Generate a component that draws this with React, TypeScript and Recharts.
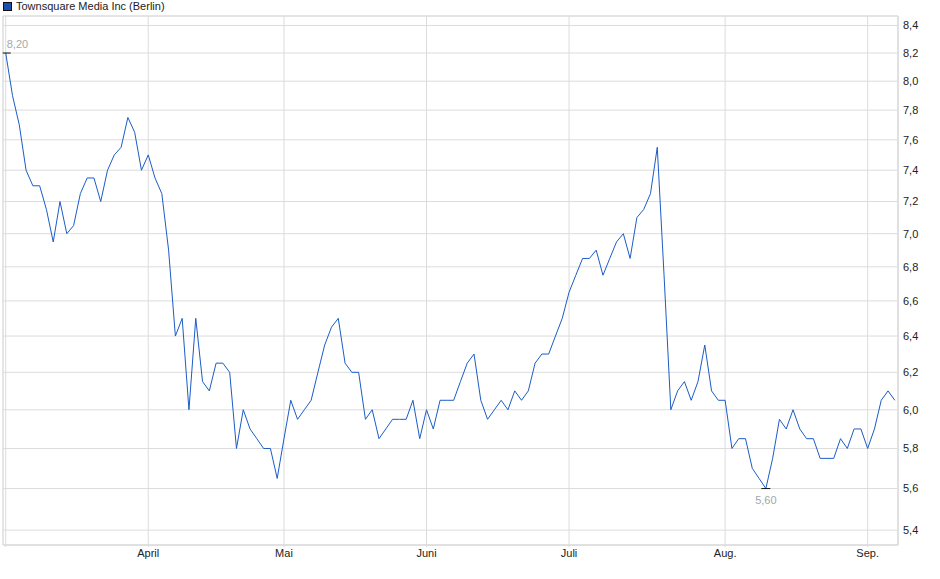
import {
  LineChart,
  Line,
  XAxis,
  YAxis,
  CartesianGrid,
  ReferenceArea,
  ReferenceDot,
} from "recharts";

// daily closes, one array per month (trading days)
const marchPrices = [8.2, 7.9, 7.7, 7.4, 7.3, 7.3, 7.15, 6.95, 7.2, 7.0, 7.05, 7.25, 7.35, 7.35, 7.2, 7.4, 7.5, 7.55, 7.75, 7.65, 7.4];
const aprilPrices = [7.5, 7.35, 7.25, 6.9, 6.4, 6.5, 6.0, 6.5, 6.15, 6.1, 6.25, 6.25, 6.2, 5.8, 6.0, 5.9, 5.85, 5.8, 5.8, 5.65];
const mayPrices = [5.85, 6.05, 5.95, 6.0, 6.05, 6.2, 6.35, 6.45, 6.5, 6.25, 6.2, 6.2, 5.95, 6.0, 5.85, 5.9, 5.95, 5.95, 5.95, 6.05, 5.85];
const junePrices = [6.0, 5.9, 6.05, 6.05, 6.05, 6.15, 6.25, 6.3, 6.05, 5.95, 6.0, 6.05, 6.0, 6.1, 6.05, 6.1, 6.25, 6.3, 6.3, 6.4, 6.5];
const julyPrices = [6.65, 6.75, 6.85, 6.85, 6.9, 6.75, 6.85, 6.95, 7.0, 6.85, 7.1, 7.15, 7.25, 7.55, 6.75, 6.0, 6.1, 6.15, 6.05, 6.15, 6.35, 6.1, 6.05];
const augustPrices = [6.05, 5.8, 5.85, 5.85, 5.7, 5.65, 5.6, 5.75, 5.95, 5.9, 6.0, 5.9, 5.85, 5.85, 5.75, 5.75, 5.75, 5.85, 5.8, 5.9, 5.9];
const septemberPrices = [5.8, 5.9, 6.05, 6.1, 6.05];

const months = [marchPrices, aprilPrices, mayPrices, junePrices, julyPrices, augustPrices, septemberPrices];
const monthLabels = ["", "April", "Mai", "Juni", "Juli", "Aug.", "Sep."];
const yTicks = [5.4, 5.6, 5.8, 6.0, 6.2, 6.4, 6.6, 6.8, 7.0, 7.2, 7.4, 7.6, 7.8, 8.0, 8.2, 8.4];

const prices = months.flat();
const data = prices.map((price, i) => ({ i, price }));

// index of the first trading day of each month
const monthTicks: number[] = [];
months.reduce((start, m) => {
  monthTicks.push(start);
  return start + m.length;
}, 0);

const maxIdx = prices.indexOf(Math.max(...prices));
const minIdx = prices.indexOf(Math.min(...prices));

const FONT = "'Liberation Sans', Arial, sans-serif";
const GRID = "#dcdcdc";
const LINE = "#1b5cc6";
const fmt = (v: number) => v.toFixed(2).replace(".", ",");

export default function App() {
  return (
    <div style={{ position: "absolute", left: 0, top: 0, width: 940, height: 579, fontFamily: FONT, background: "#fff" }}>
      <div style={{ position: "absolute", left: 3, top: 0, display: "flex", alignItems: "center", fontSize: 11, color: "#222", lineHeight: "13px" }}>
        <span style={{ display: "inline-block", width: 7, height: 7, background: "#1a4fb0", border: "1px solid #111", marginRight: 4 }} />
        Townsquare Media Inc (Berlin)
      </div>
      <LineChart width={940} height={579} data={data} margin={{ top: 16, left: 3, right: 0, bottom: 0 }}>
        <CartesianGrid stroke={GRID} strokeWidth={1} />
        <XAxis
          dataKey="i"
          type="number"
          domain={[-0.4, 131.47]}
          ticks={monthTicks}
          tickFormatter={(v: number) => monthLabels[monthTicks.indexOf(v)] ?? ""}
          interval={0}
          height={34}
          tickSize={2}
          tickMargin={2}
          axisLine={{ stroke: GRID }}
          tickLine={{ stroke: GRID }}
          tick={{ fill: "#222", fontSize: 11, fontFamily: FONT }}
        />
        <YAxis
          orientation="right"
          scale="log"
          type="number"
          domain={[5.33, 8.47]}
          allowDataOverflow
          ticks={yTicks}
          interval={0}
          width={42}
          tickSize={3}
          tickMargin={2}
          tickLine={false}
          axisLine={{ stroke: GRID }}
          tickFormatter={(v: number) => v.toFixed(1).replace(".", ",")}
          tick={{ fill: "#222", fontSize: 11, fontFamily: FONT, textAnchor: "start" }}
        />
        <ReferenceArea x1={-0.4} x2={131.47} y1={5.33} y2={8.47} fill="none" stroke={GRID} ifOverflow="extendDomain" />
        <Line
          type="linear"
          dataKey="price"
          stroke={LINE}
          strokeWidth={1}
          dot={false}
          activeDot={false}
          isAnimationActive={false}
        />
        <ReferenceDot
          x={maxIdx}
          y={prices[maxIdx]}
          shape={(p: any) => (
            <g>
              <line x1={p.cx - 3} x2={p.cx + 5} y1={p.cy} y2={p.cy} stroke="#111" strokeWidth={1} />
              <text x={p.cx + 1} y={p.cy - 5} fontSize={11} fill="#a8a8a8" fontFamily={FONT}>
                {fmt(prices[maxIdx])}
              </text>
            </g>
          )}
        />
        <ReferenceDot
          x={minIdx}
          y={prices[minIdx]}
          shape={(p: any) => (
            <g>
              <line x1={p.cx - 4.5} x2={p.cx + 4.5} y1={p.cy} y2={p.cy} stroke="#111" strokeWidth={1} />
              <text x={p.cx} y={p.cy + 15} fontSize={11} fill="#a0a8b0" textAnchor="middle" fontFamily={FONT}>
                {fmt(prices[minIdx])}
              </text>
            </g>
          )}
        />
      </LineChart>
    </div>
  );
}
